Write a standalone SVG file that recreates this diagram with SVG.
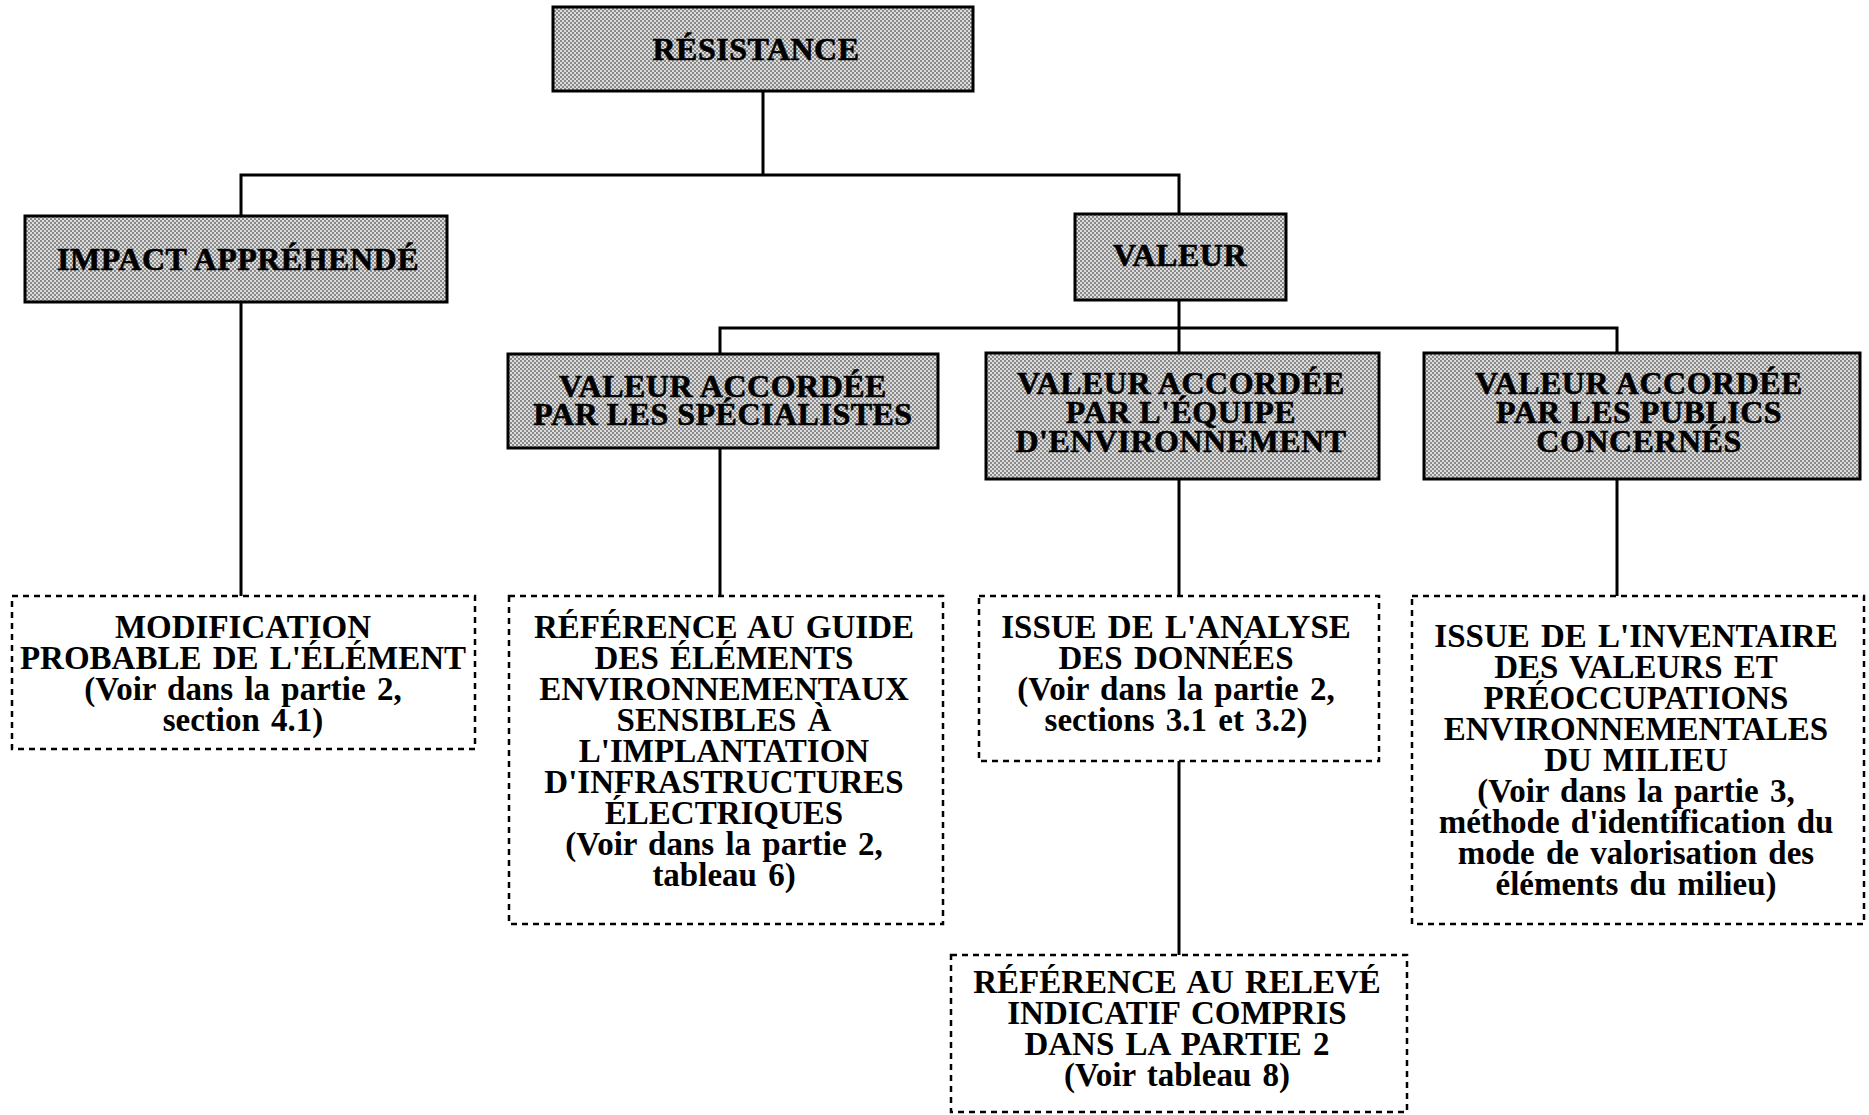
<svg xmlns="http://www.w3.org/2000/svg" width="1869" height="1115" viewBox="0 0 1869 1115">
  <defs>
    <!-- halftone dot screen used for the heading boxes -->
    <pattern id="screen" width="4" height="4" patternUnits="userSpaceOnUse">
      <rect width="4" height="4" fill="#dcdcdc"/>
      <rect x="0" y="0" width="2" height="2" fill="#8a8a8a"/>
      <rect x="2" y="2" width="2" height="2" fill="#8a8a8a"/>
    </pattern>
  </defs>
  <style>
    .head rect { fill: url(#screen); stroke: #000; stroke-width: 3; }
    .head text { font-family: "Liberation Serif", "Times New Roman", serif; font-weight: bold; font-size: 32px; letter-spacing: 0.5px; text-anchor: middle; fill: #000; stroke: #000; stroke-width: 0.6; }
    .note rect { fill: #fff; stroke: #000; stroke-width: 2.5; stroke-dasharray: 6 5; }
    .note text { font-family: "Liberation Serif", "Times New Roman", serif; font-weight: bold; font-size: 33px; letter-spacing: 0px; word-spacing: 3px; text-anchor: middle; fill: #000; }
    .links path { fill: none; stroke: #000; stroke-width: 3; }
  </style>
  <rect width="1869" height="1115" fill="#fff"/>

  <!-- tree connectors -->
  <g class="links" id="connectors">
    <path d="M763 92 V175"/>
    <path d="M241 216 V175 H1179 V214"/>
    <path d="M241 302 V596"/>
    <path d="M1179 301 V328"/>
    <path d="M720 354 V328 H1617 V353"/>
    <path d="M1179 328 V353"/>
    <path d="M720 448 V596"/>
    <path d="M1179 479 V596"/>
    <path d="M1617 479 V596"/>
    <path d="M1179 761 V955"/>
  </g>

  <g class="head" id="resistance">
    <rect x="553" y="7" width="420" height="84"/>
    <text x="756" y="60">RÉSISTANCE</text>
  </g>

  <g class="head" id="impact">
    <rect x="25" y="216" width="422" height="86"/>
    <text x="238" y="270">IMPACT APPRÉHENDÉ</text>
  </g>

  <g class="head" id="valeur">
    <rect x="1075" y="214" width="211" height="86"/>
    <text x="1180" y="266">VALEUR</text>
  </g>

  <g class="head" id="specialistes">
    <rect x="508" y="354" width="430" height="94"/>
    <text x="723" y="397">VALEUR ACCORDÉE</text>
    <text x="723" y="425">PAR LES SPÉCIALISTES</text>
  </g>

  <g class="head" id="equipe">
    <rect x="986" y="353" width="393" height="126"/>
    <text x="1181" y="394">VALEUR ACCORDÉE</text>
    <text x="1181" y="423">PAR L'ÉQUIPE</text>
    <text x="1181" y="452">D'ENVIRONNEMENT</text>
  </g>

  <g class="head" id="publics">
    <rect x="1424" y="353" width="436" height="126"/>
    <text x="1639" y="394">VALEUR ACCORDÉE</text>
    <text x="1639" y="423">PAR LES PUBLICS</text>
    <text x="1639" y="452">CONCERNÉS</text>
  </g>

  <g class="note" id="modification">
    <rect x="12" y="596" width="463" height="153"/>
    <text x="243" y="638">MODIFICATION</text>
    <text x="243" y="669">PROBABLE DE L'ÉLÉMENT</text>
    <text x="243" y="700">(Voir dans la partie 2,</text>
    <text x="243" y="731">section 4.1)</text>
  </g>

  <g class="note" id="guide">
    <rect x="509" y="596" width="434" height="328"/>
    <text x="724" y="638">RÉFÉRENCE AU GUIDE</text>
    <text x="724" y="669">DES ÉLÉMENTS</text>
    <text x="724" y="700">ENVIRONNEMENTAUX</text>
    <text x="724" y="731">SENSIBLES À</text>
    <text x="724" y="762">L'IMPLANTATION</text>
    <text x="724" y="793">D'INFRASTRUCTURES</text>
    <text x="724" y="824">ÉLECTRIQUES</text>
    <text x="724" y="855">(Voir dans la partie 2,</text>
    <text x="724" y="886">tableau 6)</text>
  </g>

  <g class="note" id="analyse">
    <rect x="979" y="596" width="400" height="165"/>
    <text x="1176" y="638">ISSUE DE L'ANALYSE</text>
    <text x="1176" y="669">DES DONNÉES</text>
    <text x="1176" y="700">(Voir dans la partie 2,</text>
    <text x="1176" y="731">sections 3.1 et 3.2)</text>
  </g>

  <g class="note" id="inventaire">
    <rect x="1412" y="596" width="452" height="328"/>
    <text x="1636" y="647">ISSUE DE L'INVENTAIRE</text>
    <text x="1636" y="678">DES VALEURS ET</text>
    <text x="1636" y="709">PRÉOCCUPATIONS</text>
    <text x="1636" y="740">ENVIRONNEMENTALES</text>
    <text x="1636" y="771">DU MILIEU</text>
    <text x="1636" y="802">(Voir dans la partie 3,</text>
    <text x="1636" y="833">méthode d'identification du</text>
    <text x="1636" y="864">mode de valorisation des</text>
    <text x="1636" y="895">éléments du milieu)</text>
  </g>

  <g class="note" id="releve">
    <rect x="951" y="955" width="456" height="157"/>
    <text x="1177" y="993">RÉFÉRENCE AU RELEVÉ</text>
    <text x="1177" y="1024">INDICATIF COMPRIS</text>
    <text x="1177" y="1055">DANS LA PARTIE 2</text>
    <text x="1177" y="1086">(Voir tableau 8)</text>
  </g>
</svg>
